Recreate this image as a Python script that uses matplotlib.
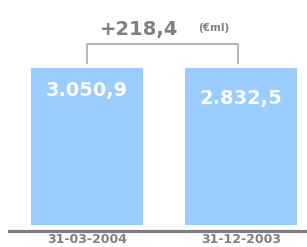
"""
Comparison bars: 31-03-2004 vs 31-12-2003
"""

import numpy as np
import matplotlib
matplotlib.use("Agg")
import matplotlib.pyplot as plt

#Chart data
dates = ["31-03-2004", "31-12-2003"]
values = [3050.9, 2832.5]
value_labels = ["3.050,9", "2.832,5"]
delta_label = "+218,4"
unit_label = "(€ml)"

#Colors
BAR = "#99ccff"
GREY = "#808080"
LINE = "#a0a0a0"

#Bars are drawn at the same display height, as in the original graphic
top = max(values)
heights = np.full(len(values), top)
x = np.arange(len(values))

fig = plt.figure(figsize=(3.07, 2.47), dpi=100)
#Axes: bottom at the bars' base (225 px from top), up to the top of the figure
ax = fig.add_axes([0, 22 / 247, 1, 225 / 247])
ax.set_xlim(-87 / 154, 220 / 154)
ax.set_ylim(0, top * 225 / 157)

ax.bar(x, heights, width=0.727, color=BAR, linewidth=0)

#Values inside the bars
ax.text(x[0], top * 0.854, value_labels[0], ha="center", va="center",
        color="white", fontsize=14, fontweight="bold")
ax.text(x[1], top * 0.803, value_labels[1], ha="center", va="center",
        color="white", fontsize=14, fontweight="bold")

#Bracket with the difference
y_hi = top * 181 / 157
y_lo = top * 162 / 157
ax.plot([x[0], x[0], x[1] - 0.02, x[1] - 0.02], [y_lo, y_hi, y_hi, y_lo],
        color=LINE, linewidth=1.1, solid_joinstyle="miter")
ax.text(0.34, top * 195 / 157, delta_label, ha="center", va="center",
        color=GREY, fontsize=14, fontweight="bold")
ax.text(0.82, top * 197 / 157, unit_label, ha="center", va="center",
        color=GREY, fontsize=7.5, fontweight="bold")

#Base line
ax.axhline(-top * 5.5 / 157, xmin=9 / 307, xmax=1, color=GREY,
           linewidth=2.3, clip_on=False)

#Date labels
ax.set_xticks(x, dates)
ax.tick_params(axis="x", length=0, pad=6, labelsize=9, labelcolor=GREY)
for lbl in ax.get_xticklabels():
    lbl.set_fontweight("bold")
ax.set_yticks([])
for s in ax.spines.values():
    s.set_visible(False)

fig.savefig("out.png", dpi=100)
